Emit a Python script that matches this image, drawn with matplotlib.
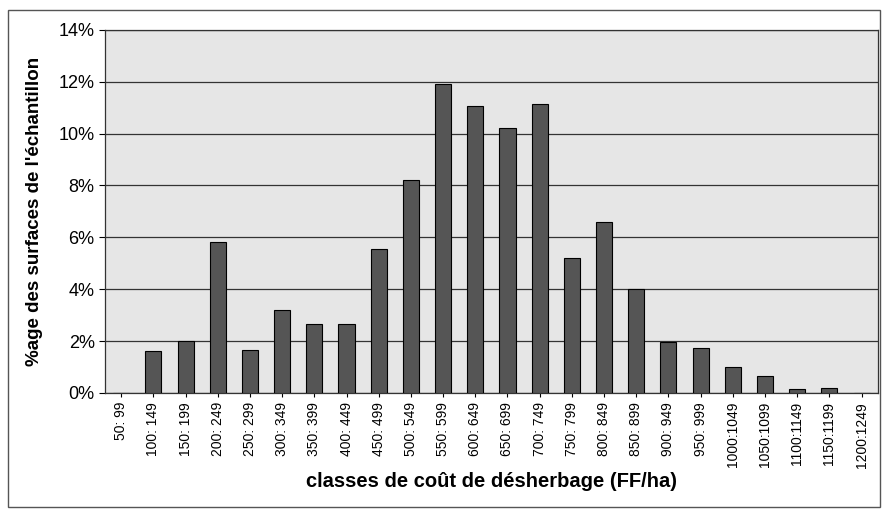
import matplotlib.pyplot as plt
from matplotlib.patches import Rectangle
from matplotlib.ticker import FuncFormatter

plt.rcParams['font.family'] = ['Liberation Sans', 'DejaVu Sans']

classes = ["50: 99", "100: 149", "150: 199", "200: 249", "250: 299", "300: 349",
           "350: 399", "400: 449", "450: 499", "500: 549", "550: 599", "600: 649",
           "650: 699", "700: 749", "750: 799", "800: 849", "850: 899", "900: 949",
           "950: 999", "1000:1049", "1050:1099", "1100:1149", "1150:1199", "1200:1249"]
pct = [0.0, 1.6, 2.0, 5.8, 1.65, 3.2, 2.65, 2.65, 5.55, 8.2, 11.9, 11.05,
       10.2, 11.15, 5.2, 6.6, 4.0, 1.95, 1.75, 1.0, 0.65, 0.15, 0.2, 0.0]

fig = plt.figure(figsize=(8.83, 5.13), dpi=100)
# cadre extérieur du graphique
fig.patches.append(Rectangle((0.009, 0.012), 0.988, 0.968, transform=fig.transFigure,
                             fill=False, edgecolor='#555555', linewidth=1.0))

ax = fig.add_axes([0.119, 0.234, 0.875, 0.708])
ax.set_facecolor('#e6e6e6')
x = range(len(classes))
ax.bar(x, pct, width=0.5, color='#555555', edgecolor='black', linewidth=0.8, zorder=3)

ax.set_xlim(-0.5, len(classes) - 0.5)
ax.set_ylim(0, 14)
ax.set_yticks(range(0, 15, 2))
ax.yaxis.set_major_formatter(FuncFormatter(lambda v, p: f"{int(v)}%"))
ax.grid(axis='y', color='#333333', linewidth=0.9, zorder=1)
ax.set_xticks(list(x))
ax.set_xticklabels(classes, rotation=90, fontsize=10)
ax.tick_params(axis='y', labelsize=13, length=4, direction='out')
ax.tick_params(axis='x', length=3, direction='out')
for s in ax.spines.values():
    s.set_color('#333333')
    s.set_linewidth(0.9)

ax.set_ylabel("%age des surfaces de l'échantillon", fontsize=13.5, fontweight='bold', labelpad=11)
ax.set_xlabel("classes de coût de désherbage (FF/ha)", fontsize=14.5, fontweight='bold', labelpad=3)

fig.savefig('out.png', dpi=100)
